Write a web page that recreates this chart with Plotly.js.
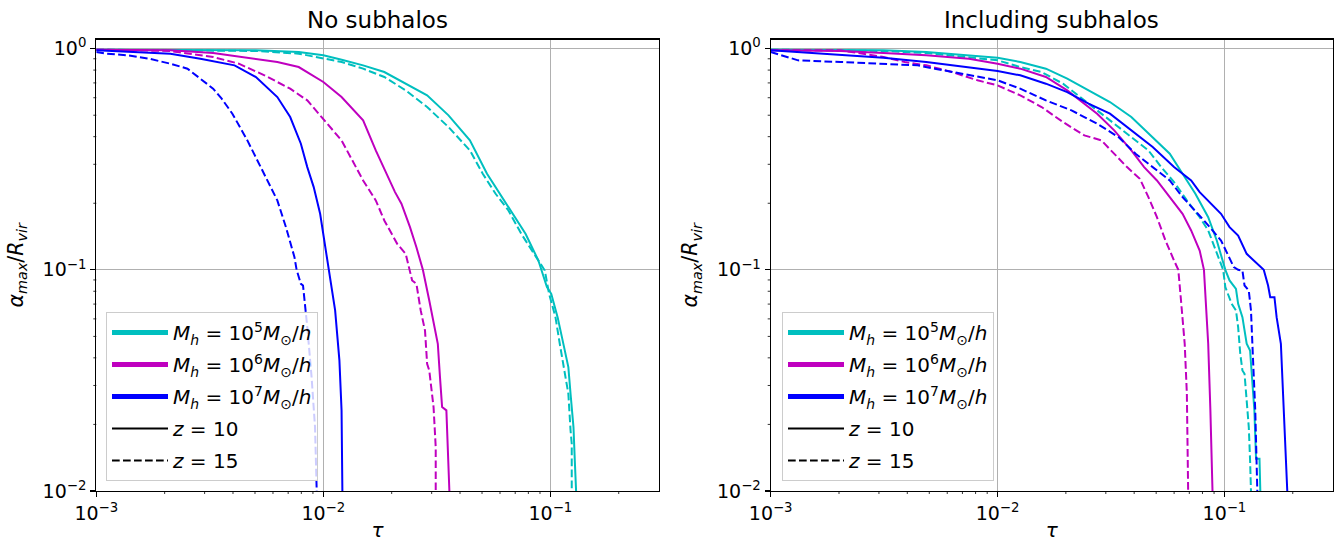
<!DOCTYPE html>
<html><head><meta charset="utf-8">
<script src="https://cdn.plot.ly/plotly-3.0.1.min.js"></script>
<style>html,body{margin:0;padding:0;background:#fff}#chart{width:1340px;height:542px}</style>
</head><body><div id="chart"></div>
<script>
// ---------- Left panel: No subhalos ----------
const tauNoSubM5z10 = [0.001, 0.005047, 0.00779, 0.01, 0.01205, 0.01497, 0.01856, 0.02306, 0.02865, 0.03559, 0.04421, 0.0526, 0.06124, 0.06825, 0.07773, 0.08855, 0.09658, 0.1009, 0.1076, 0.1149, 0.12, 0.1227, 0.1264, 0.1281, 0.1298];
const alphaNoSubM5z10 = [0.9897, 0.9828, 0.9659, 0.9329, 0.8917, 0.8405, 0.7842, 0.6944, 0.615, 0.4993, 0.3847, 0.2718, 0.2132, 0.1792, 0.1455, 0.1102, 0.0835, 0.07789, 0.06109, 0.04473, 0.03633, 0.02753, 0.01946, 0.01376, 0.01];
const tauNoSubM5z15 = [0.001, 0.005047, 0.00779, 0.01, 0.01205, 0.01497, 0.01856, 0.02306, 0.02865, 0.03559, 0.04421, 0.05037, 0.05738, 0.06536, 0.07443, 0.0848, 0.09452, 0.0987, 0.1053, 0.11, 0.1149, 0.12, 0.1227, 0.1242, 0.1242];
const alphaNoSubM5z15 = [0.9897, 0.976, 0.9493, 0.901, 0.8701, 0.8119, 0.7443, 0.6478, 0.5445, 0.442, 0.3467, 0.2718, 0.2208, 0.1855, 0.1455, 0.1181, 0.0993, 0.07789, 0.06109, 0.04631, 0.03633, 0.02753, 0.0188, 0.01636, 0.01];
const tauNoSubM6z10 = [0.001, 0.002119, 0.00327, 0.005047, 0.006271, 0.00779, 0.01, 0.01203, 0.01497, 0.01702, 0.01897, 0.02069, 0.02208, 0.02408, 0.0257, 0.02744, 0.02928, 0.03058, 0.03193, 0.03264, 0.03335, 0.03483, 0.03559, 0.03591];
const alphaNoSubM6z10 = [0.9897, 0.9828, 0.9558, 0.901, 0.8701, 0.8259, 0.7066, 0.6043, 0.4739, 0.3467, 0.2718, 0.2246, 0.1989, 0.156, 0.1266, 0.1, 0.07268, 0.05903, 0.04631, 0.03274, 0.02396, 0.02315, 0.01376, 0.01];
const tauNoSubM6z15 = [0.001, 0.001373, 0.002119, 0.00327, 0.004243, 0.005506, 0.007145, 0.008497, 0.01011, 0.01203, 0.01497, 0.01702, 0.01856, 0.02115, 0.02306, 0.02408, 0.02461, 0.0257, 0.02685, 0.02804, 0.02865, 0.02928, 0.03058, 0.03126, 0.03126];
const alphaNoSubM6z15 = [0.9897, 0.9828, 0.976, 0.917, 0.8551, 0.7574, 0.6592, 0.5837, 0.4739, 0.3847, 0.2536, 0.206, 0.1672, 0.1311, 0.1181, 0.1, 0.0895, 0.08643, 0.06551, 0.0532, 0.03761, 0.03509, 0.02396, 0.0158, 0.01];
const tauNoSubM7z10 = [0.001, 0.001373, 0.002119, 0.002872, 0.004064, 0.005047, 0.005751, 0.006271, 0.007145, 0.007962, 0.008497, 0.00907, 0.009681, 0.01011, 0.01056, 0.01127, 0.01177, 0.01203, 0.01213];
const alphaNoSubM7z10 = [0.9828, 0.9659, 0.9493, 0.901, 0.8405, 0.7443, 0.6592, 0.6043, 0.4907, 0.3717, 0.2914, 0.2366, 0.1792, 0.1357, 0.1, 0.06551, 0.03895, 0.02315, 0.01];
const tauNoSubM7z15 = [0.001, 0.001105, 0.001373, 0.001706, 0.002119, 0.00252, 0.002872, 0.00327, 0.003567, 0.003975, 0.004628, 0.005506, 0.006271, 0.006842, 0.007462, 0.007626, 0.007962, 0.008138, 0.008497, 0.008877, 0.009191, 0.00935];
const alphaNoSubM7z15 = [0.9659, 0.9493, 0.9329, 0.901, 0.8551, 0.8119, 0.7315, 0.6592, 0.5941, 0.5081, 0.3847, 0.2718, 0.206, 0.156, 0.1141, 0.1, 0.08643, 0.08494, 0.05508, 0.03274, 0.01946, 0.01];

// ---------- Right panel: Including subhalos ----------
const tauSubM5z10 = [0.001, 0.003142, 0.004848, 0.007479, 0.01, 0.01259, 0.01633, 0.02028, 0.02518, 0.03128, 0.03886, 0.04827, 0.0574, 0.06537, 0.07444, 0.08479, 0.0925, 0.1009, 0.1053, 0.1124, 0.1149, 0.12, 0.1253, 0.1297, 0.132, 0.1355, 0.1378, 0.1427, 0.1439];
const alphaSubM5z10 = [0.9897, 0.9828, 0.9659, 0.9329, 0.9105, 0.8701, 0.8119, 0.7315, 0.6478, 0.5738, 0.4907, 0.3983, 0.3349, 0.2718, 0.2208, 0.173, 0.1357, 0.1, 0.0895, 0.08207, 0.07022, 0.06109, 0.04631, 0.0432, 0.03274, 0.02315, 0.014, 0.014, 0.01];
const tauSubM5z15 = [0.001, 0.003142, 0.004848, 0.007479, 0.01, 0.01259, 0.01563, 0.01942, 0.0231, 0.02747, 0.03267, 0.03886, 0.04622, 0.05265, 0.05995, 0.06828, 0.07776, 0.08479, 0.0925, 0.09871, 0.1009, 0.1076, 0.1124, 0.1149, 0.1174, 0.12, 0.1226, 0.1253, 0.128, 0.1297, 0.1309];
const alphaSubM5z15 = [0.9897, 0.976, 0.9558, 0.917, 0.8855, 0.8259, 0.7842, 0.6944, 0.6043, 0.526, 0.4577, 0.3983, 0.3467, 0.2914, 0.2492, 0.206, 0.173, 0.1507, 0.1181, 0.1, 0.0835, 0.07022, 0.06551, 0.05508, 0.04173, 0.03509, 0.03389, 0.02568, 0.01946, 0.01376, 0.01];
const tauSubM6z10 = [0.001, 0.002036, 0.003142, 0.004848, 0.007479, 0.01, 0.01259, 0.01633, 0.02028, 0.0231, 0.02747, 0.03267, 0.03886, 0.04426, 0.05039, 0.0574, 0.06537, 0.07131, 0.07776, 0.08121, 0.08299, 0.08479, 0.0867, 0.0878, 0.08858];
const alphaSubM6z10 = [0.9828, 0.976, 0.9558, 0.9329, 0.901, 0.8551, 0.8119, 0.7443, 0.6478, 0.5837, 0.5081, 0.427, 0.3467, 0.2914, 0.2536, 0.2132, 0.1792, 0.1507, 0.1223, 0.1, 0.06551, 0.04631, 0.02315, 0.01376, 0.01];
const tauSubM6z15 = [0.001, 0.002036, 0.003142, 0.003902, 0.004848, 0.006288, 0.008156, 0.01, 0.01259, 0.01563, 0.01942, 0.02412, 0.02869, 0.03267, 0.0372, 0.04238, 0.04622, 0.05039, 0.05496, 0.05995, 0.0626, 0.06397, 0.06537, 0.0668, 0.06828, 0.06887, 0.06918];
const alphaSubM6z15 = [0.9828, 0.9828, 0.917, 0.8701, 0.8405, 0.7842, 0.7192, 0.6823, 0.615, 0.5445, 0.4658, 0.4054, 0.3847, 0.3349, 0.2914, 0.2581, 0.2132, 0.173, 0.1357, 0.1102, 0.1, 0.07789, 0.06109, 0.04631, 0.02753, 0.01376, 0.01];
const tauSubM7z10 = [0.001, 0.00132, 0.002036, 0.003142, 0.004848, 0.007479, 0.01, 0.01259, 0.01633, 0.02028, 0.02518, 0.03128, 0.03886, 0.04827, 0.05995, 0.07131, 0.07776, 0.08479, 0.09659, 0.1053, 0.1149, 0.1253, 0.1396, 0.149, 0.1557, 0.1591, 0.1661, 0.1698, 0.1773, 0.1811, 0.1867, 0.1892];
const alphaSubM7z10 = [0.9828, 0.9659, 0.9427, 0.9105, 0.8701, 0.8259, 0.7924, 0.7574, 0.6944, 0.6365, 0.5638, 0.5081, 0.427, 0.3589, 0.2914, 0.2536, 0.2246, 0.206, 0.1792, 0.156, 0.143, 0.1181, 0.1064, 0.1, 0.08494, 0.07522, 0.07522, 0.06109, 0.04631, 0.02753, 0.01474, 0.01];
const tauSubM7z15 = [0.001, 0.00111, 0.00132, 0.002036, 0.003142, 0.004444, 0.005286, 0.006859, 0.01, 0.01259, 0.01633, 0.02118, 0.02747, 0.03412, 0.04058, 0.04827, 0.0574, 0.06537, 0.07444, 0.08121, 0.08858, 0.09659, 0.11, 0.1149, 0.12, 0.1226, 0.128, 0.1309, 0.1337, 0.1367, 0.1396];
const alphaSubM7z15 = [0.9659, 0.9329, 0.8855, 0.8701, 0.8551, 0.8405, 0.8119, 0.7707, 0.7192, 0.6592, 0.5837, 0.526, 0.4577, 0.3983, 0.3349, 0.2914, 0.2536, 0.2132, 0.1855, 0.1672, 0.1507, 0.1357, 0.1028, 0.1, 0.0993, 0.08494, 0.08065, 0.06551, 0.03895, 0.02315, 0.01];

// ---------- Labels ----------
const panelTitles = ['No subhalos', 'Including subhalos'];
const massLabels = [
  '<i>M</i><sub><i>h</i></sub> = 10<sup>5</sup><i>M</i><sub>⊙</sub>/<i>h</i>',
  '<i>M</i><sub><i>h</i></sub> = 10<sup>6</sup><i>M</i><sub>⊙</sub>/<i>h</i>',
  '<i>M</i><sub><i>h</i></sub> = 10<sup>7</sup><i>M</i><sub>⊙</sub>/<i>h</i>'
];
const zLabels = ['<i>z</i> = 10', '<i>z</i> = 15'];
const xTickVals = [0.001, 0.01, 0.1];
const xTickText = ['10<sup>−3</sup>', '10<sup>−2</sup>', '10<sup>−1</sup>'];
const yTickVals = [0.01, 0.1, 1];
const yTickText = ['10<sup>−2</sup>', '10<sup>−1</sup>', '10<sup>0</sup>'];

const massColors = ['#00BFBF', '#BF00BF', '#0000FF'];
const DASH = '7.7px,3.3px';
const FONT = 'DejaVu Sans, sans-serif';

function curve(x, y, color, dashed, xa, ya) {
  return {x: x, y: y, type: 'scatter', mode: 'lines', xaxis: xa, yaxis: ya,
    line: {color: color, width: 2, dash: dashed ? DASH : 'solid'},
    showlegend: false, hoverinfo: 'skip'};
}
function legItem(name, color, width, dashed, xa, ya, legendId, grp) {
  return {x: [null], y: [null], type: 'scatter', mode: 'lines', xaxis: xa, yaxis: ya,
    name: name, line: {color: color, width: width, dash: dashed ? DASH : 'solid'},
    showlegend: true, legend: legendId, legendgroup: grp, hoverinfo: 'skip'};
}

const traces = [
  curve(tauNoSubM5z10, alphaNoSubM5z10, massColors[0], false, 'x', 'y'),
  curve(tauNoSubM5z15, alphaNoSubM5z15, massColors[0], true, 'x', 'y'),
  curve(tauNoSubM6z10, alphaNoSubM6z10, massColors[1], false, 'x', 'y'),
  curve(tauNoSubM6z15, alphaNoSubM6z15, massColors[1], true, 'x', 'y'),
  curve(tauNoSubM7z10, alphaNoSubM7z10, massColors[2], false, 'x', 'y'),
  curve(tauNoSubM7z15, alphaNoSubM7z15, massColors[2], true, 'x', 'y'),
  curve(tauSubM5z10, alphaSubM5z10, massColors[0], false, 'x2', 'y2'),
  curve(tauSubM5z15, alphaSubM5z15, massColors[0], true, 'x2', 'y2'),
  curve(tauSubM6z10, alphaSubM6z10, massColors[1], false, 'x2', 'y2'),
  curve(tauSubM6z15, alphaSubM6z15, massColors[1], true, 'x2', 'y2'),
  curve(tauSubM7z10, alphaSubM7z10, massColors[2], false, 'x2', 'y2'),
  curve(tauSubM7z15, alphaSubM7z15, massColors[2], true, 'x2', 'y2')
];
[['x', 'y', 'legend'], ['x2', 'y2', 'legend2']].forEach(function (p, k) {
  for (let i = 0; i < 3; i++) traces.push(legItem(massLabels[i], massColors[i], 5, false, p[0], p[1], p[2], 'g' + k + i));
  traces.push(legItem(zLabels[0], 'black', 2, false, p[0], p[1], p[2], 'g' + k + '3'));
  traces.push(legItem(zLabels[1], 'black', 2, true, p[0], p[1], p[2], 'g' + k + '4'));
});

const XMAX = 0.3, YMAX = 1.1;
const XRANGE = [-3, Math.log10(XMAX)];
const YRANGE = [-2, Math.log10(YMAX)];
const YDOMAIN = [51 / 542, 502.5 / 542];
const XDOMAINS = [[96.3 / 1340, 658.7 / 1340], [770.7 / 1340, 1332.7 / 1340]];

// minor log ticks (2..9 × each decade), drawn as short outside tick shapes
const minorVals = [];
[0.001, 0.01, 0.1].forEach(function (d) { for (let k = 2; k <= 9; k++) minorVals.push(d * k); });
const shapes = [];
[['x', 'y'], ['x2', 'y2']].forEach(function (p, k) {
  const wPx = (XDOMAINS[k][1] - XDOMAINS[k][0]) * 1340;
  const hPx = (YDOMAIN[1] - YDOMAIN[0]) * 542;
  minorVals.filter(function (v) { return v > 0.001 && v < XMAX; }).forEach(function (v) {
    shapes.push({type: 'line', xref: p[0], yref: p[1] + ' domain', x0: v, x1: v, y0: 0, y1: -3 / hPx, line: {color: 'black', width: 0.8}, layer: 'above'});
  });
  minorVals.filter(function (v) { return v > 0.01 && v < YMAX; }).forEach(function (v) {
    shapes.push({type: 'line', xref: p[0] + ' domain', yref: p[1], x0: 0, x1: -3 / wPx, y0: v, y1: v, line: {color: 'black', width: 0.8}, layer: 'above'});
  });
});

function xAxis(domain, anchor) {
  return {type: 'log', domain: domain, anchor: anchor, range: XRANGE,
    showline: true, linecolor: 'black', linewidth: 1.1, mirror: true,
    ticks: 'outside', ticklen: 5, tickwidth: 1.1, tickcolor: 'black',
    showgrid: true, gridcolor: '#b0b0b0', gridwidth: 1.1, zeroline: false,
    tickmode: 'array', tickvals: xTickVals, ticktext: xTickText,
    tickfont: {family: FONT, size: 19, color: 'black'},
    title: {text: '<i>τ</i>', font: {family: FONT, size: 20, color: 'black'}, standoff: 0},
    automargin: false};
}
function yAxis(anchor) {
  return {type: 'log', domain: YDOMAIN, anchor: anchor, range: YRANGE,
    showline: true, linecolor: 'black', linewidth: 1.1, mirror: true,
    ticks: 'outside', ticklen: 5, tickwidth: 1.1, tickcolor: 'black',
    showgrid: true, gridcolor: '#b0b0b0', gridwidth: 1.1, zeroline: false,
    tickmode: 'array', tickvals: yTickVals, ticktext: yTickText,
    tickfont: {family: FONT, size: 19, color: 'black'},
    title: {text: '<i>α</i><sub><i>max</i></sub>/<i>R</i><sub><i>vir</i></sub>', font: {family: FONT, size: 20.5, color: 'black'}, standoff: 13},
    automargin: false};
}
function legendBox(x) {
  return {x: x, y: 1 - 312 / 542, xanchor: 'left', yanchor: 'top',
    bgcolor: 'rgba(255,255,255,0.8)', bordercolor: '#cccccc', borderwidth: 1,
    font: {family: FONT, size: 20, color: 'black'}, tracegroupgap: 3, traceorder: 'grouped', itemwidth: 56};
}

const layout = {
  width: 1340, height: 542, margin: {l: 0, r: 0, t: 0, b: 0},
  paper_bgcolor: 'white', plot_bgcolor: 'white',
  xaxis: xAxis(XDOMAINS[0], 'y'),
  yaxis: yAxis('x'),
  xaxis2: xAxis(XDOMAINS[1], 'y2'),
  yaxis2: yAxis('x2'),
  legend: legendBox(106 / 1340),
  legend2: legendBox(782 / 1340),
  shapes: shapes,
  annotations: [
    {text: panelTitles[0], xref: 'paper', yref: 'paper', x: 377.5 / 1340, y: 1 - 20 / 542, xanchor: 'center', yanchor: 'middle', showarrow: false, font: {family: FONT, size: 23, color: 'black'}},
    {text: panelTitles[1], xref: 'paper', yref: 'paper', x: 1051.7 / 1340, y: 1 - 20 / 542, xanchor: 'center', yanchor: 'middle', showarrow: false, font: {family: FONT, size: 23, color: 'black'}}
  ],
  showlegend: true
};
Plotly.newPlot('chart', traces, layout, {staticPlot: true, displayModeBar: false});
</script></body></html>
